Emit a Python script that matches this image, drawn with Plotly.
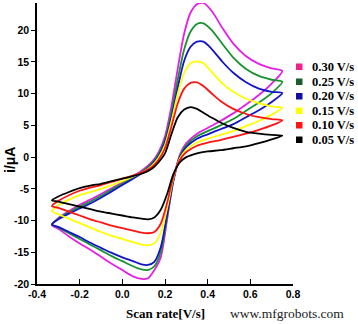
import plotly.graph_objects as go

# ---------------- data ----------------
scan_labels = ["0.30 V/s", "0.25 V/s", "0.20 V/s", "0.15 V/s", "0.10 V/s", "0.05 V/s"]
colors = ["#e61ee6", "#17922f", "#1414c8", "#ffff00", "#ff1414", "#000000"]
legend_colors = ["#f0208c", "#1b5e2b", "#1010a0", "#ffff00", "#ff1414", "#000000"]

E_fwd = [-0.33, -0.30, -0.25, -0.20, -0.15, -0.10, -0.05, 0.00, 0.05, 0.10, 0.14, 0.17,
         0.20, 0.23, 0.26, 0.29, 0.32, 0.35, 0.38, 0.42, 0.47, 0.52, 0.58, 0.64, 0.70, 0.75]
E_rev = [0.70, 0.64, 0.58, 0.52, 0.46, 0.40, 0.35, 0.30, 0.27, 0.24, 0.21, 0.18, 0.15,
         0.12, 0.09, 0.05, 0.00, -0.05, -0.10, -0.15, -0.20, -0.25, -0.30, -0.33]

i_fwd_030 = [-10.7, -9.6, -8.5, -7.5, -6.7, -5.8, -4.9, -4.0, -3.0, -1.9, -0.7, 0.8,
             3.3, 8.0, 14.0, 19.5, 22.8, 24.1, 24.3, 23.0, 20.3, 17.9, 15.9, 14.7, 14.0, 13.6]
i_rev_030 = [11.6, 9.8, 8.3, 6.9, 5.7, 4.6, 3.7, 2.2, 0.4, -3.6, -9.8, -15.8, -17.8,
             -19.1, -19.2, -18.8, -17.8, -16.8, -15.7, -14.6, -13.6, -12.5, -11.3, -10.7]

i_fwd_025 = [-10.6, -9.7, -8.7, -7.8, -7.0, -6.1, -5.1, -4.2, -3.2, -2.1, -0.9, 0.5,
             2.8, 7.0, 12.3, 17.0, 19.8, 21.0, 21.1, 20.0, 17.8, 15.7, 13.9, 12.8, 12.2, 11.9]
i_rev_025 = [10.1, 8.6, 7.3, 6.0, 5.0, 4.1, 3.3, 1.9, 0.2, -3.6, -9.4, -15.0, -17.2,
             -17.8, -17.7, -17.2, -16.4, -15.6, -14.7, -13.8, -12.9, -12.0, -11.1, -10.6]

i_fwd_020 = [-10.6, -9.8, -8.9, -8.1, -7.3, -6.4, -5.4, -4.4, -3.4, -2.3, -1.1, 0.2,
             2.4, 6.2, 11.0, 15.2, 17.4, 18.2, 18.2, 17.0, 15.0, 13.3, 11.8, 10.8, 10.3, 10.1]
i_rev_020 = [8.7, 7.4, 6.3, 5.2, 4.4, 3.6, 2.9, 1.6, 0.0, -3.5, -9.0, -14.2, -16.5,
             -17.0, -16.9, -16.4, -15.8, -15.1, -14.3, -13.5, -12.6, -11.8, -11.0, -10.6]

i_fwd_015 = [-8.5, -7.6, -6.7, -6.0, -5.5, -5.0, -4.4, -3.8, -3.1, -2.3, -1.3, -0.1,
             1.9, 5.6, 10.0, 13.3, 14.8, 15.1, 14.8, 13.4, 11.6, 10.3, 9.2, 8.5, 8.0, 7.8]
i_rev_015 = [6.7, 5.7, 4.9, 4.1, 3.5, 2.9, 2.3, 1.2, -0.2, -3.2, -8.0, -12.0, -13.6,
             -13.9, -13.8, -13.4, -12.9, -12.4, -11.8, -11.1, -10.4, -9.7, -9.0, -8.5]

i_fwd_010 = [-7.7, -6.9, -6.0, -5.3, -4.8, -4.4, -3.9, -3.4, -2.9, -2.3, -1.5, -0.4,
             1.4, 4.8, 8.5, 10.8, 11.7, 11.8, 11.2, 10.0, 8.6, 7.6, 6.8, 6.3, 6.0, 5.8]
i_rev_010 = [5.0, 4.3, 3.7, 3.2, 2.7, 2.3, 1.8, 0.8, -0.4, -3.0, -7.2, -10.5, -11.8,
             -12.0, -11.9, -11.6, -11.2, -10.8, -10.3, -9.8, -9.2, -8.6, -8.0, -7.7]

i_fwd_005 = [-6.8, -6.2, -5.5, -4.9, -4.5, -4.2, -3.8, -3.4, -3.0, -2.5, -1.8, -0.8,
             0.6, 3.6, 6.3, 7.5, 7.9, 7.6, 7.0, 6.2, 5.3, 4.6, 4.0, 3.7, 3.5, 3.4]
i_rev_005 = [2.8, 2.2, 1.7, 1.4, 1.1, 0.9, 0.6, 0.0, -0.8, -2.6, -5.8, -8.3, -9.5,
             -9.8, -9.7, -9.5, -9.2, -8.9, -8.6, -8.2, -7.8, -7.4, -7.0, -6.8]

x_ticks = [-0.4, -0.2, 0.0, 0.2, 0.4, 0.6, 0.8]
y_ticks = [-20, -15, -10, -5, 0, 5, 10, 15, 20]

fwd = [i_fwd_030, i_fwd_025, i_fwd_020, i_fwd_015, i_fwd_010, i_fwd_005]
rev = [i_rev_030, i_rev_025, i_rev_020, i_rev_015, i_rev_010, i_rev_005]

# ---------------- figure ----------------
fig = go.Figure()
for k in range(len(scan_labels)):
    fig.add_trace(go.Scatter(
        x=E_fwd + E_rev, y=fwd[k] + rev[k], mode="lines",
        line=dict(color=colors[k], width=1.8, shape="spline", smoothing=0.8),
        name=scan_labels[k], showlegend=False, hoverinfo="skip"))

W, H = 358, 324
ml, mr, mt, mb = 37, 65, 3, 40
pw, ph = W - ml - mr, H - mt - mb

def px2paper(px, py):
    return (px - ml) / pw, (H - mb - py) / ph

shapes = []
annotations = []
row_y = [66.5, 81.5, 96, 110.5, 125, 139.5]
for k, lab in enumerate(scan_labels):
    x0, y0 = px2paper(296, row_y[k] - 3)
    x1, y1 = px2paper(302.5, row_y[k] + 3.5)
    shapes.append(dict(type="rect", xref="paper", yref="paper", x0=x0, x1=x1, y0=y1, y1=y0,
                       fillcolor=legend_colors[k], line=dict(width=0)))
    tx, ty = px2paper(310, row_y[k])
    annotations.append(dict(xref="paper", yref="paper", x=tx, y=ty, xanchor="left", yanchor="middle",
                            text=lab, showarrow=False,
                            font=dict(family="Liberation Serif", size=12.5, color="black", weight="bold")))

ax, ay = px2paper(165, 313)
annotations.append(dict(xref="paper", yref="paper", x=ax, y=ay, xanchor="center", yanchor="middle",
                        text="Scan rate[V/s]", showarrow=False,
                        font=dict(family="Liberation Serif", size=13, color="black", weight="bold")))
bx, by = px2paper(10, 160)
annotations.append(dict(xref="paper", yref="paper", x=bx, y=by, xanchor="center", yanchor="middle",
                        text="i/μA", textangle=-90, showarrow=False,
                        font=dict(family="Liberation Sans", size=14, color="black", weight="bold")))
wx, wy = px2paper(287, 313)
annotations.append(dict(xref="paper", yref="paper", x=wx, y=wy, xanchor="center", yanchor="middle",
                        text="www.mfgrobots.com", showarrow=False,
                        font=dict(family="Liberation Serif", size=13.5, color="#222222")))

tickfont = dict(family="Liberation Sans", size=10.5, color="black", weight="bold")
fig.update_layout(
    width=W, height=H, margin=dict(l=ml, r=mr, t=mt, b=mb, autoexpand=False),
    paper_bgcolor="white", plot_bgcolor="white",
    showlegend=False, shapes=shapes, annotations=annotations,
    xaxis=dict(range=[-0.4, 0.8], tickvals=x_ticks, ticktext=[f"{v:.1f}" for v in x_ticks],
               showgrid=False, zeroline=False, showline=True, linecolor="black", linewidth=1.5,
               ticks="inside", ticklen=5, tickwidth=1.2, tickcolor="black", tickfont=tickfont),
    yaxis=dict(range=[-20, 24.3], tickvals=y_ticks, ticktext=[str(v) for v in y_ticks],
               showgrid=False, zeroline=False, showline=True, linecolor="black", linewidth=1.5,
               ticks="outside", ticklen=4, tickwidth=1.2, tickcolor="black", tickfont=tickfont),
)

fig.write_html("out.html")
